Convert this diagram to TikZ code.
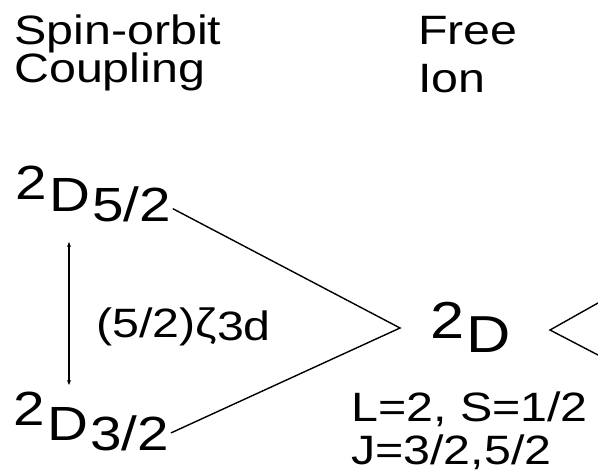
\documentclass[tikz,border=0pt]{standalone}
\usepackage{fontspec}
\setmainfont[FakeStretch=1.18]{Liberation Sans}
\usetikzlibrary{arrows.meta}
\tikzset{
  txt/.style={inner sep=0pt, anchor=base west},
  head/.style={txt, font=\fontsize{41bp}{45bp}\selectfont},
  lvl/.style={txt, font=\fontsize{48bp}{52bp}\selectfont},
  big/.style={txt, font=\fontsize{52bp}{56bp}\selectfont},
  info/.style={txt, font=\fontsize{41bp}{45bp}\selectfont},
  conn/.style={line width=1.4bp, line cap=round},
  gap/.style={line width=1.1bp, {Stealth[length=5bp,width=4bp]}-{Stealth[length=5bp,width=4bp]}}
}
\begin{document}
\begin{tikzpicture}[x=1bp,y=-1bp]
\useasboundingbox (0,0) rectangle (598,473);
% headings
\node[head] (so1) at (14,45) {Spin-orbit};
\node[head] (so2) at (14,83) {Coupling};
\node[head] (fi1) at (418,45) {Free};
\node[head] (fi2) at (418,93) {Ion};
% upper spin-orbit level
\node[lvl] (d52a) at (15,200) {2};
\node[lvl] (d52b) at (49,212) {D};
\node[lvl] (d52s) at (92,222) {5/2};
% lower spin-orbit level
\node[lvl] (d32a) at (13,425) {2};
\node[lvl] (d32b) at (47,440) {D};
\node[lvl] (d32s) at (90,450) {3/2};
% splitting arrow
\coordinate (atop) at (69,242);
\coordinate (abot) at (69,385);
\draw[gap] (atop) -- (abot);
\node[head] (zeta) at (96,337) {(5/2)ζ\raisebox{-3bp}{3d}};
% free ion level
\node[big] (da) at (430,338) {2};
\node[big] (db) at (466,352) {D};
\node[info] (ls) at (351,421) {L=2, S=1/2};
\node[info] (j) at (351,464) {J=3/2,5/2};
% connectors
\coordinate (apex) at (400,328);
\draw[conn] ([xshift=2bp,yshift=-4bp]d52s.east) -- (apex) -- ([xshift=2bp]d32s.east);
\coordinate (rapex) at (550,330);
\coordinate (rup) at (598,303);
\coordinate (rdn) at (598,355);
\draw[conn] (rup) -- (rapex) -- (rdn);
\end{tikzpicture}
\end{document}
